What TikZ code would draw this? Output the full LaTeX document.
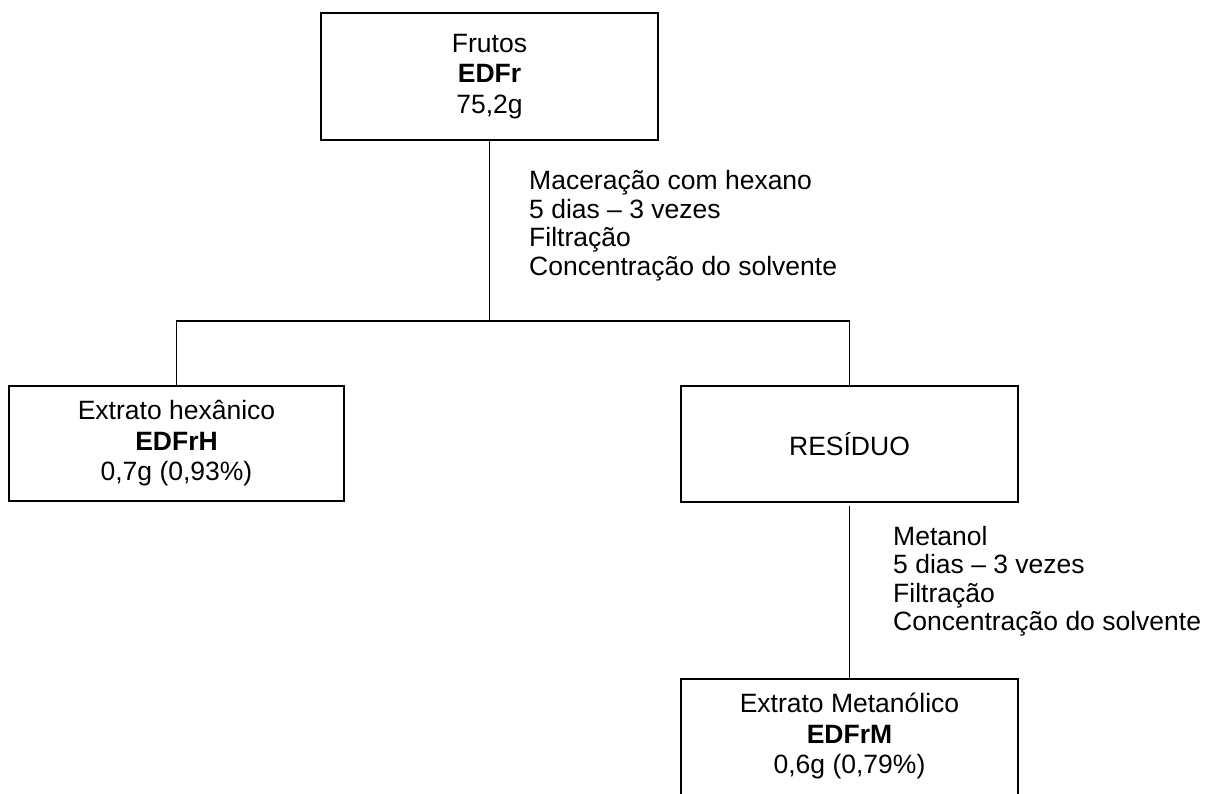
\documentclass[tikz,border=0pt]{standalone}
\usepackage{fontspec}
\setmainfont{Liberation Sans}
\begin{document}
\begin{tikzpicture}[x=1pt,y=-1pt,
  box/.style={draw, line width=1.8pt, inner sep=0pt, align=center,
    font=\fontsize{26.5}{30.5}\selectfont},
  lbl/.style={anchor=north west, align=left, inner sep=0pt,
    font=\fontsize{26.5}{28.5}\selectfont},
  conn/.style={line width=1.8pt}]
\clip (0,0) rectangle (1205,794);
\node[box, minimum width=337pt, minimum height=127pt] (fr) at (489.5,76.5) {Frutos\\\textbf{EDFr}\\75,2g};
\node[box, minimum width=335pt, minimum height=115pt] (hx) at (176.5,443.5) {Extrato hexânico\\\textbf{EDFrH}\\0,7g (0,93\%)};
\node[box, minimum width=337pt, minimum height=116pt] (rs) at (849.5,444) {RESÍDUO};
\node[box, minimum width=337pt, minimum height=160pt, anchor=north] (me) at (849.5,678) {Extrato Metanólico\\\textbf{EDFrM}\\0,6g (0,79\%)\\[20pt]};
\coordinate (j) at (489.5,321);
\draw[conn] (fr.south) -- (j);
\draw[conn] (hx.north) |- (j) -| (rs.north);
\draw[conn, shorten <=3pt] (rs.south) -- (me.north);
\node[lbl] (l1) at (529,170.5) {Maceração com hexano\\5 dias -- 3 vezes\\Filtração\\Concentração do solvente};
\node[lbl] (l2) at (893,526) {Metanol\\5 dias -- 3 vezes\\Filtração\\Concentração do solvente};
\end{tikzpicture}
\end{document}
